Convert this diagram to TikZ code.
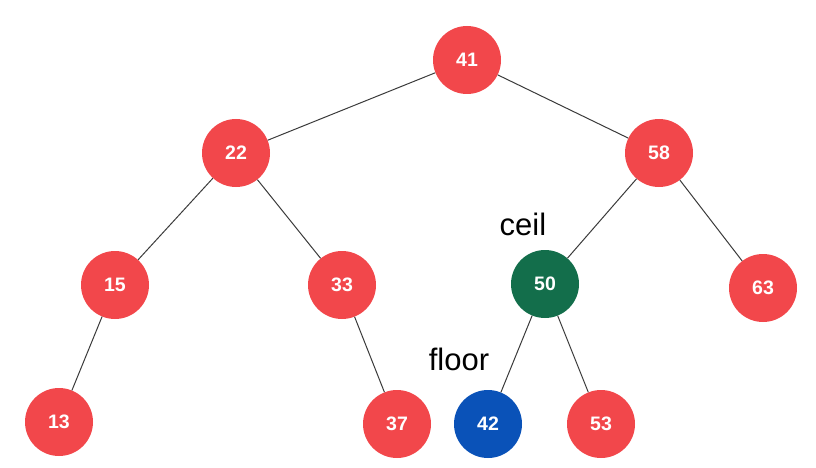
\documentclass[tikz,border=0pt]{standalone}
\usepackage{fontspec}
\setmainfont{Liberation Sans}
\definecolor{nred}{HTML}{F2474B}
\definecolor{ngreen}{HTML}{136E4B}
\definecolor{nblue}{HTML}{0A52B8}
\definecolor{edge}{HTML}{3A3A3A}
\begin{document}
\begin{tikzpicture}[x=1pt,y=-1pt,
  tnode/.style={circle,fill=nred,minimum size=68pt,inner sep=0pt,text=white,font=\fontsize{19.5}{19.5}\selectfont\bfseries},
  gnode/.style={tnode,fill=ngreen},
  bnode/.style={tnode,fill=nblue},
  tedge/.style={draw=edge,line width=1pt},
  lbl/.style={font=\fontsize{31}{31}\selectfont,text=black,inner sep=0pt}]
\useasboundingbox (0,0) rectangle (816,468);
\node[tnode] (n41) at (467,60) {41};
\node[tnode] (n22) at (236,153) {22};
\node[tnode] (n58) at (659,153) {58};
\node[tnode] (n15) at (115,285) {15};
\node[tnode] (n33) at (342,285) {33};
\node[gnode] (n50) at (545,284) {50};
\node[tnode] (n63) at (763,288) {63};
\node[tnode] (n13) at (59,422) {13};
\node[tnode] (n37) at (397,424) {37};
\node[bnode] (n42) at (488,424) {42};
\node[tnode] (n53) at (601,424) {53};
\node[lbl,anchor=base] (ceil) at (523,235) {ceil};
\node[lbl,anchor=base] (floor) at (459,370) {floor};
\draw[tedge] (n41) -- (n22);
\draw[tedge] (n41) -- (n58);
\draw[tedge] (n22) -- (n15);
\draw[tedge] (n22) -- (n33);
\draw[tedge] (n58) -- (n50);
\draw[tedge] (n58) -- (n63);
\draw[tedge] (n15) -- (n13);
\draw[tedge] (n33) -- (n37);
\draw[tedge] (n50) -- (n42);
\draw[tedge] (n50) -- (n53);
\end{tikzpicture}
\end{document}
